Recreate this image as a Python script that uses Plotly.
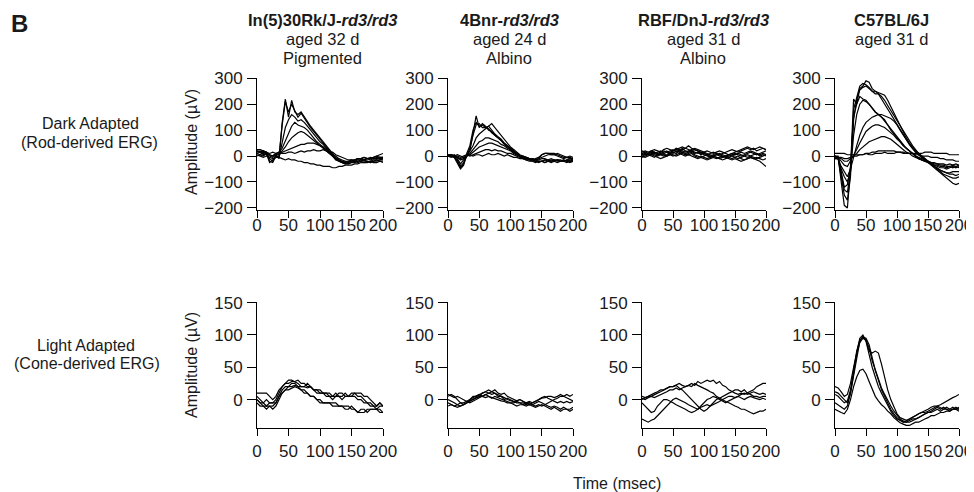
import plotly.graph_objects as go

# ---------------- data ----------------
TIME_MS = list(range(0, 205, 5))
X_TICKS = [0, 50, 100, 150, 200]
Y_TICKS_DARK = [-200, -100, 0, 100, 200, 300]
Y_TICKS_LIGHT = [0, 50, 100, 150]

STRAINS = ["In(5)30Rk/J-<i>rd3/rd3</i>", "4Bnr-<i>rd3/rd3</i>", "RBF/DnJ-<i>rd3/rd3</i>", "C57BL/6J"]
AGES = ["aged 32 d", "aged 24 d", "aged 31 d", "aged 31 d"]
PIGMENT = ["Pigmented", "Albino", "Albino", ""]
ROW_LABELS = [["Dark Adapted", "(Rod-derived ERG)"], ["Light Adapted", "(Cone-derived ERG)"]]
Y_TITLE = "Amplitude (µV)"
X_TITLE = "Time (msec)"

# Dark adapted (rod) responses, µV, sampled every 5 ms
DA_IN5 = [
    [15,20,10,15,-20,-25,0,-10,130,220,150,215,170,160,170,150,130,115,100,85,70,55,40,25,10,-5,-15,-25,-30,-30,-25,-25,-20,-20,-25,-25,-20,-25,-25,-20,-25],
    [20,15,5,10,-25,-15,-5,0,120,210,170,200,175,150,165,145,125,110,95,80,65,50,35,20,5,-10,-20,-25,-25,-30,-25,-20,-25,-20,-15,-20,-25,-20,-15,-20,-20],
    [10,15,20,5,-10,-20,5,-5,60,110,140,160,150,135,140,130,115,100,85,70,55,45,30,15,0,-15,-20,-25,-30,-25,-20,-20,-15,-15,-20,-20,-25,-20,-20,-15,-15],
    [25,25,20,15,5,0,10,15,30,60,90,115,130,120,115,110,100,85,70,55,45,35,20,10,0,-10,-15,-20,-25,-20,-20,-15,-10,-10,-5,-10,-15,-10,-5,-10,-10],
    [10,5,15,10,0,-5,5,10,20,35,55,70,80,90,95,90,80,70,60,50,40,30,20,10,0,-10,-15,-20,-20,-25,-20,-15,-10,-10,-15,-10,-5,-10,-10,-5,-5],
    [0,5,0,10,5,0,10,5,15,20,25,30,35,40,45,45,50,50,50,45,40,35,25,15,5,0,-10,-15,-20,-20,-15,-15,-10,-10,-5,-10,-10,-5,0,-5,-5],
    [20,15,20,15,10,15,10,15,10,10,15,15,10,15,20,15,20,20,25,20,20,25,20,15,15,5,0,-5,-10,-15,-15,-20,-20,-15,-15,-10,-10,-5,0,5,10],
    [5,0,-5,0,-5,-10,-5,-5,-10,-15,-10,-15,-15,-20,-20,-25,-25,-30,-30,-35,-35,-40,-40,-40,-45,-45,-40,-40,-35,-35,-35,-30,-30,-25,-25,-20,-20,-15,-15,-15,-10],
]
DA_4BNR = [
    [5,5,0,-20,-45,-30,0,20,90,155,110,125,115,100,95,80,70,60,50,40,30,20,10,0,-5,-10,-15,-15,-20,-20,-20,-15,-15,-20,-20,-15,-15,-20,-15,-10,-15],
    [5,0,-5,-15,-40,-25,5,30,80,120,125,110,110,115,100,85,75,65,50,40,30,20,10,0,-5,-10,-10,-15,-15,-10,-5,0,5,5,5,0,-5,-10,-5,-10,-10],
    [0,5,0,-10,-30,-15,5,20,40,70,85,95,105,115,125,110,95,80,65,50,35,25,15,5,0,-5,-10,-10,-15,-10,5,10,10,10,10,5,0,-5,-5,0,-5],
    [0,0,5,-5,-15,-10,0,10,25,40,55,60,70,70,65,60,55,45,40,30,25,15,10,0,-5,-5,-10,-10,-15,-15,-10,-10,-15,-10,-15,-20,-20,-15,-20,-15,-20],
    [5,0,0,-5,-10,-5,0,5,15,25,35,40,45,50,50,45,40,35,30,25,20,10,5,0,0,-5,-10,-10,-15,-20,-20,-15,-20,-20,-15,-15,-20,-20,-25,-20,-20],
    [0,5,0,0,-5,0,5,0,5,10,15,20,25,25,20,25,20,20,15,10,10,5,0,-5,-5,-10,-10,-15,-10,-5,5,10,10,5,5,10,5,0,-5,-5,-10],
    [0,-5,0,5,0,-5,0,5,0,5,5,0,5,10,5,5,10,5,0,5,0,-5,-5,-10,-10,-15,-15,-20,-20,-25,-20,-25,-20,-15,-20,-25,-20,-20,-15,-20,-15],
    [0,0,-5,-25,-50,-35,10,40,100,130,115,120,110,105,90,80,70,60,45,35,25,15,5,0,-10,-15,-20,-20,-25,-20,-20,-25,-20,-25,-20,-15,-20,-15,-20,-25,-20],
]
DA_RBF = [
    [10,15,10,5,10,15,20,10,15,20,25,15,20,30,20,15,20,10,15,5,10,5,0,5,10,5,0,-5,0,5,10,5,0,5,10,15,10,5,10,15,20],
    [0,5,10,15,5,0,5,10,0,5,10,20,15,10,5,10,15,5,0,-5,0,5,-5,0,-5,-10,-5,0,5,0,-5,-10,-5,0,5,0,-5,-10,-5,0,5],
    [15,20,15,20,25,20,15,25,30,25,20,25,30,35,30,25,20,25,20,15,10,5,10,15,10,5,10,15,20,25,20,15,20,25,30,25,30,20,25,30,25],
    [-5,0,5,0,-5,5,10,5,0,10,5,0,5,15,10,5,10,0,-5,0,-5,-10,-5,0,-5,-10,-15,-10,-5,-10,-5,0,-10,-15,-10,-5,-10,-15,-20,-30,-40],
    [5,10,5,10,15,10,5,0,5,15,20,25,20,15,10,15,20,15,10,15,5,0,-5,0,5,0,-5,0,-5,0,5,10,5,0,-5,0,5,10,5,10,5],
    [20,15,10,15,10,5,10,15,20,10,15,10,20,25,30,40,30,25,20,10,15,10,5,0,5,10,5,0,5,10,5,10,15,10,15,20,15,10,0,5,0],
    [0,-5,0,5,0,-5,-10,-5,0,5,0,5,10,5,0,5,0,-5,-10,-5,-10,-15,-10,-5,-10,-5,0,-5,-10,-15,-10,-15,-20,-15,-10,-5,-10,-5,-10,-15,-10],
    [10,5,10,20,15,10,15,20,15,10,20,30,25,20,15,20,25,30,25,20,15,20,15,10,15,20,15,10,5,10,15,20,25,30,35,30,25,30,35,30,25],
]
DA_C57 = [
    [0,0,-100,-190,-200,-50,220,200,260,270,290,285,260,250,240,220,200,180,160,140,120,100,80,60,45,30,15,5,-5,-15,-25,-35,-45,-55,-65,-75,-85,-95,-105,-110,-105],
    [0,-10,-80,-150,-170,-80,180,230,270,280,275,265,250,240,240,230,215,195,175,155,135,115,95,75,55,40,25,10,0,-10,-20,-30,-40,-50,-60,-70,-75,-80,-85,-85,-80],
    [0,-5,-60,-120,-110,-40,150,200,230,220,215,200,185,170,160,150,140,120,105,90,75,60,45,30,20,10,0,-10,-15,-20,-25,-30,-35,-40,-45,-45,-50,-45,-40,-45,-40],
    [-10,-10,-50,-80,-100,-60,80,160,200,215,210,200,185,170,160,150,135,120,100,85,70,55,40,30,20,10,0,-5,-10,-15,-20,-25,-30,-30,-35,-35,-40,-40,-35,-40,-35],
    [-10,-10,-40,-60,-80,-50,0,40,80,110,130,140,150,155,160,160,155,150,145,135,120,100,80,60,45,30,15,5,-5,-15,-20,-30,-40,-45,-55,-60,-65,-70,-70,-75,-70],
    [-5,-5,-20,-35,-40,-20,0,25,50,75,95,105,115,120,120,115,110,100,90,80,65,55,40,30,20,10,0,-10,-15,-20,-25,-30,-35,-35,-40,-40,-45,-40,-45,-40,-45],
    [-5,-5,-10,-20,-20,-10,0,10,25,35,45,55,60,65,70,75,75,70,65,55,45,35,25,15,10,0,-5,-10,-15,-20,-20,-25,-25,-30,-30,-30,-35,-30,-35,-30,-35],
    [-5,-5,-5,-10,-10,-5,0,0,5,5,10,10,15,15,20,20,20,20,20,20,15,15,15,10,10,10,5,5,0,0,0,-5,-5,-5,-10,-10,-15,-15,-15,-20,-20],
    [10,10,10,10,5,5,5,5,5,5,10,5,5,10,10,10,15,10,10,10,15,15,10,10,10,10,10,10,10,15,15,15,10,10,10,10,10,5,5,5,5],
    [0,-5,-70,-130,-140,-60,140,220,255,265,270,260,250,250,245,240,235,215,190,165,140,115,90,70,50,35,20,10,0,-10,-20,-30,-40,-50,-55,-60,-65,-65,-60,-60,-60],
]

# Light adapted (cone) responses, µV, sampled every 5 ms
LA_IN5 = [
    [10,10,10,10,5,0,5,15,20,25,25,28,28,30,25,25,20,20,15,15,15,10,10,10,5,5,10,10,5,5,5,5,0,0,-5,-5,-10,-10,-15,-10,-10],
    [0,-5,-5,-10,-10,-15,-10,0,10,15,20,20,22,20,20,20,18,20,15,10,10,10,10,5,5,10,5,5,10,5,10,10,5,5,0,-5,-5,-10,-10,-5,-10],
    [-5,-10,-10,-10,-5,-5,-5,5,15,20,20,25,25,20,15,15,10,5,5,0,0,-5,-5,-5,-10,-10,-10,-10,-15,-15,-10,-15,-20,-15,-15,-20,-15,-15,-15,-15,-20],
    [5,0,-5,0,-5,-5,0,10,20,25,30,30,28,25,20,20,25,20,15,15,10,10,5,5,0,5,5,0,5,5,5,10,10,10,5,5,0,-5,-10,-5,-10],
    [0,-5,-10,-15,-10,-10,-5,5,10,15,15,18,20,18,15,10,10,5,5,0,-5,-5,-5,-5,-5,-5,-10,-10,-10,-10,-15,-15,-20,-20,-20,-15,-15,-15,-15,-20,-20],
]
LA_4BNR = [
    [5,8,5,0,-5,-8,-5,0,5,5,8,10,12,10,8,10,5,5,0,2,0,-2,-5,-5,-5,-8,-5,-8,-10,-8,-10,-8,-5,-2,0,2,5,5,8,5,8],
    [-10,-8,-10,-12,-10,-8,-5,-2,0,2,5,5,8,5,2,5,3,0,-2,-3,-5,-5,-3,-5,-8,-5,-5,-8,-5,-3,-5,-8,-10,-12,-10,-12,-15,-12,-15,-15,-12],
    [0,-2,-5,-8,-10,-8,-5,-3,0,3,5,10,12,15,12,10,8,5,3,0,-2,-3,-2,0,-3,-5,-8,-5,-3,0,3,5,2,0,-2,-5,-3,-5,-3,-5,-3],
    [-5,-8,-10,-8,-5,-5,-3,0,3,5,8,5,3,5,3,2,0,-2,-3,-5,-5,-8,-10,-8,-8,-10,-8,-10,-12,-10,-8,-10,-12,-15,-12,-15,-18,-15,-15,-18,-15],
    [8,5,3,5,2,0,-3,-5,-3,0,3,5,8,10,12,15,10,8,10,5,3,0,-2,0,-2,-5,-3,-5,-3,0,2,3,5,5,3,5,8,5,3,0,-2],
]
LA_RBF = [
    [5,3,5,8,10,12,15,15,18,20,20,22,25,22,20,22,25,22,28,25,28,30,28,30,25,28,22,20,15,12,10,8,10,8,10,12,15,20,22,25,25],
    [0,2,5,5,8,10,12,15,18,20,20,22,18,15,10,5,0,-5,-10,-15,-18,-15,-10,-5,0,2,5,8,10,12,15,15,12,15,10,8,5,5,3,5,5],
    [-5,-10,-15,-20,-18,-10,-5,0,0,-2,-5,-8,-10,-12,-15,-18,-20,-18,-15,-10,-5,0,2,5,3,0,-2,-5,-2,0,2,5,8,10,8,10,12,10,8,10,8],
    [-30,-32,-35,-32,-30,-25,-20,-15,-10,-5,0,2,0,-3,-5,-8,-10,-12,-15,-12,-10,-8,-10,-8,-5,-3,0,2,5,5,3,5,2,0,3,5,3,2,0,2,0],
    [2,0,3,5,3,5,8,10,12,15,15,18,15,18,20,22,20,25,22,20,18,15,12,10,5,2,0,-3,-5,-8,-10,-12,-15,-15,-18,-20,-22,-20,-18,-18,-15],
]
LA_C57 = [
    [20,18,12,5,8,25,50,75,95,100,90,70,50,35,20,10,0,-10,-18,-25,-30,-32,-35,-33,-30,-28,-25,-22,-20,-20,-18,-15,-12,-10,-8,-5,-3,0,3,5,8],
    [12,10,5,0,-5,10,35,65,90,98,92,75,72,75,72,55,35,15,0,-12,-22,-28,-30,-32,-30,-28,-25,-22,-20,-18,-15,-12,-10,-10,-12,-15,-15,-15,-12,-15,-12],
    [-5,-8,-12,-15,-10,10,40,70,88,95,92,80,60,45,30,18,8,-2,-10,-18,-25,-30,-33,-35,-35,-33,-30,-28,-25,-22,-20,-18,-15,-12,-15,-12,-15,-18,-15,-15,-18],
    [-15,-18,-20,-22,-15,0,20,35,45,47,40,28,15,5,-2,-8,-12,-18,-22,-28,-32,-36,-38,-40,-40,-38,-35,-35,-32,-30,-28,-25,-25,-22,-20,-20,-18,-18,-15,-15,-15],
    [8,5,0,-5,-2,15,45,75,92,97,95,85,65,45,30,15,5,-5,-15,-22,-28,-32,-35,-35,-33,-30,-30,-28,-25,-22,-20,-20,-18,-15,-18,-15,-12,-15,-15,-12,-15],
]

DARK = [DA_IN5, DA_4BNR, DA_RBF, DA_C57]
LIGHT = [LA_IN5, LA_4BNR, LA_RBF, LA_C57]

# ---------------- layout ----------------
# The page body adds an 8 px offset; positions below are in window pixels.
OFF = 8
W, H = 974, 492
FONT = "Liberation Sans, Arial, Helvetica, sans-serif"
PANEL_X = [(257, 383), (448, 573), (642, 766), (835, 959)]
ROW_Y = [(78, 210), (302, 428)]
TITLE_X = [322, 509, 703, 891]
X_STANDOFF = [-7, 1]


def px_x(x):
    return (x - OFF) / W


def px_y(y):
    return 1 - (y - OFF) / H


fig = go.Figure()
layout_axes = {}

for row in range(2):
    data_row = DARK if row == 0 else LIGHT
    for col in range(4):
        idx = row * 4 + col + 1
        xa = "x" if idx == 1 else f"x{idx}"
        ya = "y" if idx == 1 else f"y{idx}"
        for trace in data_row[col]:
            fig.add_trace(go.Scatter(
                x=TIME_MS, y=trace, xaxis=xa, yaxis=ya, mode="lines",
                line=dict(color="black", width=1.2), showlegend=False,
                hoverinfo="skip"))
        common = dict(
            showline=True, linecolor="black", linewidth=1,
            ticks="outside", tickcolor="black", tickwidth=1,
            showgrid=False, zeroline=False, automargin=False,
            ticklabeloverflow="allow",
            tickfont=dict(family=FONT, size=17, color="#1a1a1a"),
        )
        x0, x1 = PANEL_X[col]
        ytop, ybot = ROW_Y[row]
        layout_axes["xaxis" if idx == 1 else f"xaxis{idx}"] = dict(
            common, domain=[px_x(x0), px_x(x1)], range=[0, 200],
            tickvals=X_TICKS, ticklen=7, tickangle=0,
            ticklabelstandoff=X_STANDOFF[row], anchor=ya)
        if row == 0:
            yr, yt = [-208, 301], Y_TICKS_DARK
        else:
            yr, yt = [-44, 151], Y_TICKS_LIGHT
        layout_axes["yaxis" if idx == 1 else f"yaxis{idx}"] = dict(
            common, domain=[px_y(ybot), px_y(ytop)], range=yr,
            tickvals=yt, ticklen=9, ticklabelstandoff=1, anchor=xa)

annotations = []


def add_text(text, x, y, size=16, angle=0, xanchor="center", yanchor="middle"):
    annotations.append(dict(
        text=text, x=px_x(x), y=px_y(y), xref="paper", yref="paper",
        showarrow=False, textangle=angle, xanchor=xanchor, yanchor=yanchor,
        font=dict(family=FONT, size=size, color="#1a1a1a")))


for col in range(4):
    add_text(f"<b>{STRAINS[col]}</b>", TITLE_X[col], 20, size=16.5)
    add_text(AGES[col], TITLE_X[col], 39, size=16.5)
    if PIGMENT[col]:
        add_text(PIGMENT[col], TITLE_X[col], 58, size=16.5)

add_text(ROW_LABELS[0][0], 90, 123)
add_text(ROW_LABELS[0][1], 89, 142)
add_text(ROW_LABELS[1][0], 86, 345)
add_text(ROW_LABELS[1][1], 87, 363)
add_text(Y_TITLE, 191, 142, angle=-90)
add_text(Y_TITLE, 191, 365, angle=-90)
add_text(X_TITLE, 617, 483)
add_text("<b>B</b>", 9, OFF, size=24, xanchor="left", yanchor="top")

fig.update_layout(
    template="none",
    width=W, height=H, margin=dict(l=0, r=0, t=0, b=0, pad=0),
    paper_bgcolor="white", plot_bgcolor="white",
    annotations=annotations, **layout_axes)

fig.write_html("out.html")
